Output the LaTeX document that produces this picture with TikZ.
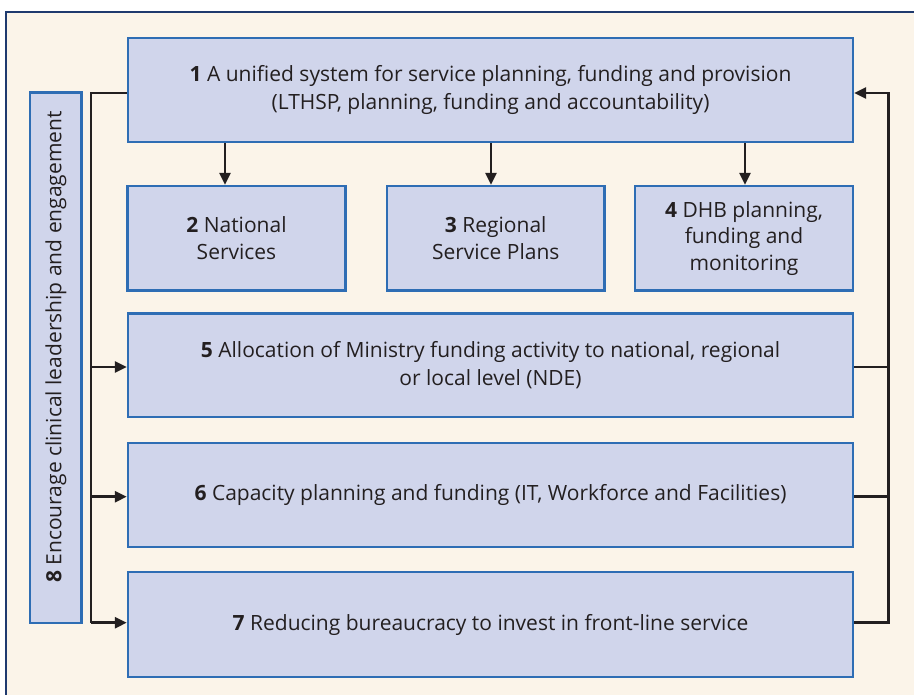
\documentclass[tikz,border=0pt]{standalone}
\usepackage{fontspec}
\setmainfont{Open Sans}
\usetikzlibrary{arrows.meta}
\definecolor{pagebg}{RGB}{251,244,233}
\definecolor{framenavy}{RGB}{31,58,110}
\definecolor{boxfill}{RGB}{208,213,235}
\definecolor{boxedge}{RGB}{46,109,180}
\definecolor{inkdark}{RGB}{35,31,32}
\tikzset{
  stagebox/.style={draw=boxedge, fill=boxfill, line width=2.4pt, inner sep=0pt,
    align=center, text=inkdark, font=\fontsize{21}{28}\selectfont},
  smallstage/.style={stagebox, minimum height=104.5pt, font=\fontsize{21}{26.5}\selectfont},
  link/.style={draw=inkdark, line width=2.7pt},
  linkarrow/.style={link, -{Triangle[length=12pt,width=11pt]}},
}
\begin{document}
\begin{tikzpicture}[x=1pt,y=-1pt]
\useasboundingbox (0,0) rectangle (914,695);
\begin{scope}
  \clip (0,0) rectangle (914,695);
  \draw[framenavy, fill=pagebg, line width=2pt] (6,12) rectangle (940,720);
\end{scope}

% stage boxes
\node[stagebox, minimum width=725pt, minimum height=104pt] (b1) at (490.5,90)
  {\textbf{1} A unified system for service planning, funding and provision\\(LTHSP, planning, funding and accountability)};
\node[smallstage, minimum width=218pt] (b2) at (236.5,238.25)
  {\textbf{2} National\\Services};
\node[smallstage, minimum width=217.5pt] (b3) at (495.75,238.25)
  {\textbf{3} Regional\\Service Plans};
\node[smallstage, minimum width=218pt] (b4) at (744,238.25)
  {\textbf{4} DHB planning,\\funding and\\monitoring};
\node[stagebox, minimum width=725pt, minimum height=103.5pt] (b5) at (490.5,365.25)
  {\textbf{5} Allocation of Ministry funding activity to national, regional\\or local level (NDE)};
\node[stagebox, minimum width=725pt, minimum height=104pt] (b6) at (490.5,495)
  {\textbf{6} Capacity planning and funding (IT, Workforce and Facilities)};
\node[stagebox, minimum width=725pt, minimum height=105pt] (b7) at (490.5,624.5)
  {\textbf{7} Reducing bureaucracy to invest in front-line service};
\node[stagebox, minimum width=51.5pt, minimum height=530.5pt] (b8) at (55.75,357.75) {};
\node[text=inkdark, font=\fontsize{21}{28}\selectfont, rotate=90] (t8) at (56,347)
  {\textbf{8} Encourage clinical leadership and engagement};

% downward arrows from stage 1
\coordinate (x2) at (225,0);
\coordinate (x3) at (491,0);
\coordinate (x4) at (745,0);
\draw[linkarrow] (b1.south -| x2) -- (b2.north -| x2);
\draw[linkarrow] (b1.south -| x3) -- (b3.north -| x3);
\draw[linkarrow] (b1.south -| x4) -- (b4.north -| x4);

% left feed line
\coordinate (lt) at (91,93);
\coordinate (lb) at (91,622.7);
\coordinate (l5) at (91,367);
\coordinate (l6) at (91,496.7);
\draw[link] (b1.west |- lt) -- (lt) -- (lb);
\draw[linkarrow] (l5) -- (b5.west |- l5);
\draw[linkarrow] (l6) -- (b6.west |- l6);
\draw[linkarrow] (lb) -- (b7.west |- lb);

% right feedback line
\coordinate (rt) at (888.5,93);
\coordinate (rb) at (888.5,622.7);
\coordinate (r5) at (888.5,367);
\coordinate (r6) at (888.5,496.7);
\draw[linkarrow] (b7.east |- rb) -- (rb) -- (rt) -- (b1.east |- rt);
\draw[link] (b5.east |- r5) -- (r5);
\draw[link] (b6.east |- r6) -- (r6);
\end{tikzpicture}
\end{document}
